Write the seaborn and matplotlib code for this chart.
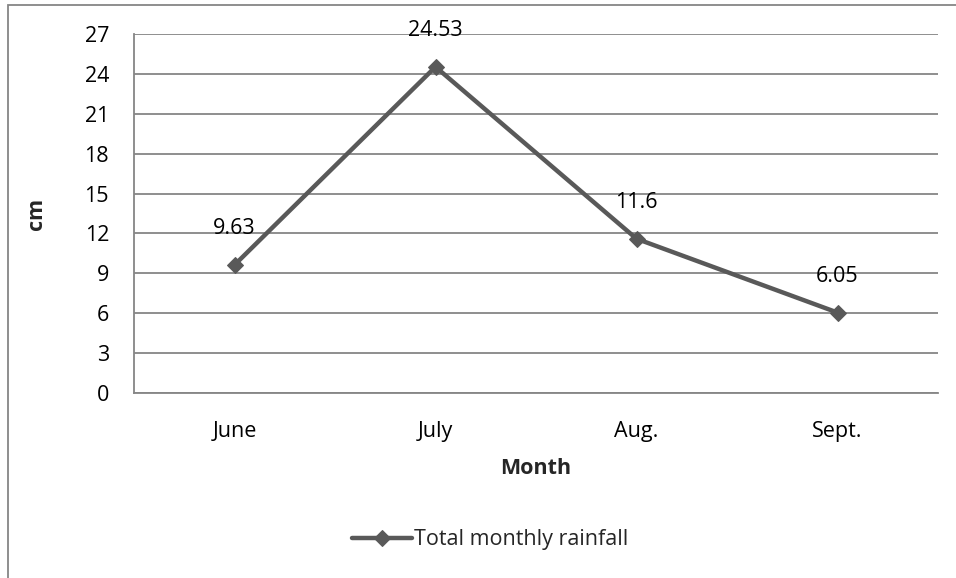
import matplotlib
matplotlib.use('Agg')
from matplotlib import pyplot as plt
from matplotlib.patches import Rectangle
import pandas as pd
import seaborn as sns

months = ['June', 'July', 'Aug.', 'Sept.']
rainfall = [9.63, 24.53, 11.6, 6.05]
yticks = [0, 3, 6, 9, 12, 15, 18, 21, 24, 27]

df = pd.DataFrame({'Month': months, 'cm': rainfall})

sns.set_style('white')
plt.rcParams['font.family'] = ['Open Sans', 'DejaVu Sans']

line_col = '#595959'
grid_col = '#868686'
fs = 15.5

fig = plt.figure(figsize=(9.56, 5.78), dpi=100)
ax = fig.add_axes([134 / 956, 1 - 393 / 578, (938 - 134) / 956, (393 - 34) / 578])

sns.lineplot(data=df, x='Month', y='cm', ax=ax, sort=False, color=line_col,
             linewidth=3.2, marker='D', markersize=8, markeredgecolor=line_col,
             label='Total monthly rainfall')

# data labels
for i, v in enumerate(rainfall):
    ax.annotate(f'{v:g}', (i, v), xytext=(0, 26), textcoords='offset points',
                ha='center', va='center', fontsize=fs, color='black')

ax.set_xlim(-0.5, len(months) - 0.5)
ax.set_ylim(0, 27)
ax.set_yticks(yticks)
ax.yaxis.grid(True, color=grid_col, linewidth=1.3)
ax.set_axisbelow(True)
ax.tick_params(axis='both', length=0, labelsize=fs, colors='black')
ax.tick_params(axis='y', pad=18)
ax.tick_params(axis='x', pad=20)
for s in ['top', 'right']:
    ax.spines[s].set_visible(False)
for s in ['left', 'bottom']:
    ax.spines[s].set_color(grid_col)
    ax.spines[s].set_linewidth(1.3)

ax.set_xlabel('Month', fontsize=fs, fontweight='bold', labelpad=12)
ax.set_ylabel('cm', fontsize=fs, fontweight='bold', labelpad=27)

ax.legend(loc='center', bbox_to_anchor=(490 / 956, 1 - 540 / 578),
          bbox_transform=fig.transFigure, frameon=False, fontsize=fs,
          handlelength=2.8, handletextpad=0.1)

# chart border (cropped Excel chart area)
fig.patches.append(Rectangle((8 / 956, -0.1), 1.1, 1 - 5 / 578 + 0.1,
                             transform=fig.transFigure, fill=False,
                             edgecolor=grid_col, linewidth=1.3))

fig.savefig('out.png', dpi=100)
